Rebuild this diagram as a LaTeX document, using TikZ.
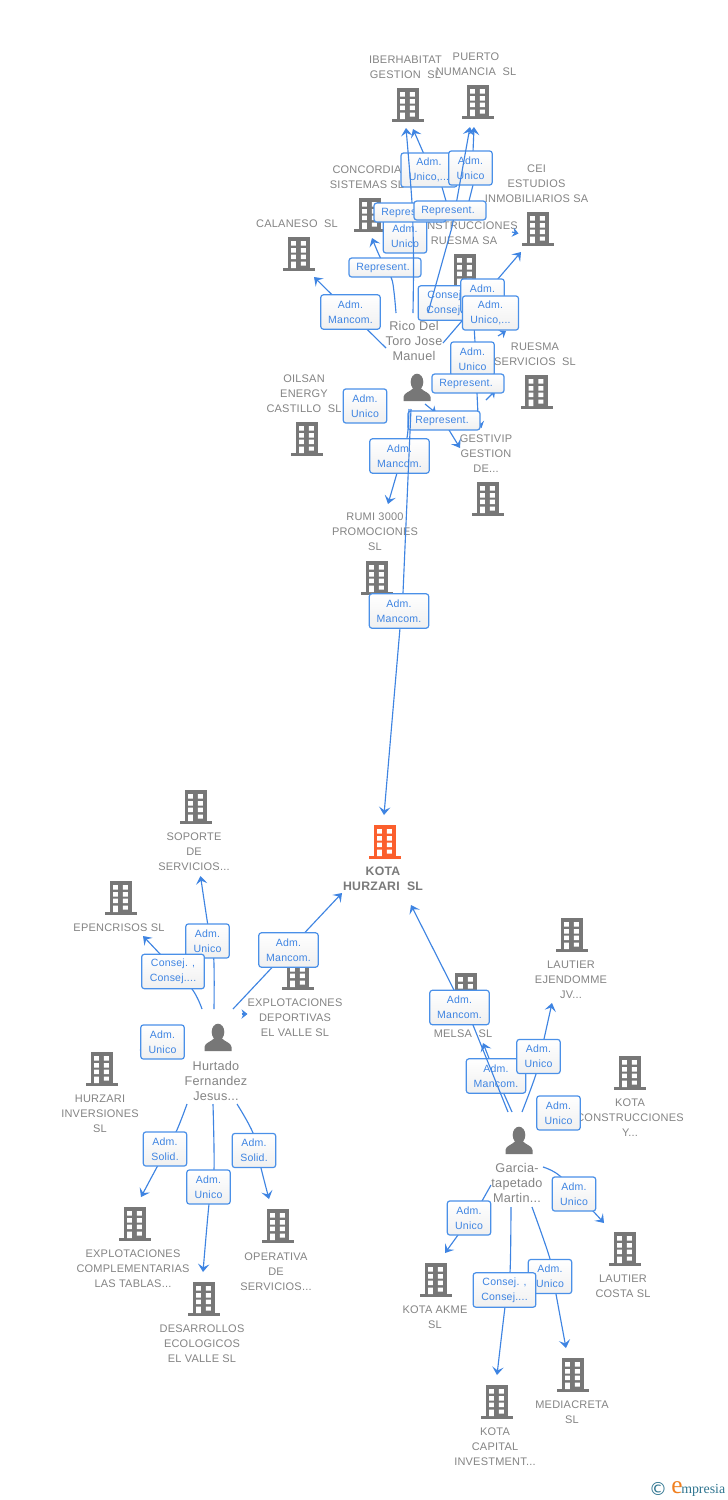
\documentclass[tikz,border=0pt]{standalone}
\usepackage{fontspec}
\setmainfont{Liberation Sans}[LetterSpace=2]
\newfontfamily\serifit{Liberation Serif}[Style=Italic]
\newfontfamily\symb{DejaVu Sans}
\usetikzlibrary{arrows.meta}
\definecolor{txtgray}{HTML}{848484}
\definecolor{icongray}{HTML}{777777}
\definecolor{linkblue}{HTML}{3E84E2}
\definecolor{boxblue}{HTML}{4A90E8}
\definecolor{hotorange}{HTML}{FB5F2D}
\definecolor{logoteal}{HTML}{2F7590}
\definecolor{logoorange}{HTML}{F08020}
\newcommand{\rp}{\raisebox{-0.75pt}{Represent.}\kern3pt}
\tikzset{
  x=0.75pt,y=-0.75pt,
  conn/.style={draw=linkblue,line width=0.85pt,-{Stealth[length=6pt,width=8.5pt,inset=2.5pt]}},
  plainline/.style={draw=linkblue,line width=0.85pt},
  chev/.style={draw=linkblue,line width=0.85pt,-{Stealth[length=4.5pt,width=7pt,inset=1.5pt]}},
  lbl/.style={draw=boxblue,line width=0.9pt,rounded corners=2pt,top color=white,bottom color=black!6,
    text=linkblue,align=center,inner sep=0pt,font=\fontsize{7.9}{11.25}\selectfont},
  lblU/.style={lbl,minimum width=32.6pt,minimum height=25.6pt},
  lblM/.style={lbl,minimum width=44.6pt,minimum height=25.8pt},
  lblC/.style={lbl,minimum width=47pt,minimum height=25.8pt},
  lblD/.style={lbl,minimum width=42pt,minimum height=25.6pt},
  lblR/.style={lbl,minimum width=54pt,minimum height=14.2pt},
  nm/.style={text=txtgray,align=center,anchor=north,inner sep=0pt,yshift=-0.75pt,font=\fontsize{8.25}{11.25}\selectfont},
  personnm/.style={nm,yshift=-0.2pt,font=\fontsize{9.5}{11.25}\selectfont},
  mainnm/.style={nm,text=black!52,font=\fontsize{9.2}{11.25}\selectfont\bfseries},
}
\newcommand{\bldg}[4]{%
  \begin{scope}[shift={(#2,#3)}]
    \coordinate (#1) at (0,17);
    \fill[#4] (-11.5,0) rectangle (11,31);
    \fill[#4] (-16,31) rectangle (16,34);
    \fill[white] (-8,4) rectangle (-3.2,8.5) (1.8,4) rectangle (6.8,8.5)
      (-8,11) rectangle (-3.2,15.5) (1.8,11) rectangle (6.8,15.5)
      (-8,17.7) rectangle (-3.2,22) (1.8,17.7) rectangle (6.8,22)
      (-8,24.5) rectangle (-3.2,31) (1.8,24.5) rectangle (6.8,28.5);
  \end{scope}}
\newcommand{\person}[3]{%
  \begin{scope}[shift={(#2,#3)}]
    \coordinate (#1) at (0,14);
    \fill[icongray] (0,8) ellipse (6.3 and 8.3);
    \fill[icongray] (-13.5,27) -- (-13.5,23) .. controls (-13,18.5) and (-7,18) .. (-3.5,14)
      -- (3.5,14) .. controls (7,18) and (13,18.5) .. (13.5,23) -- (13.5,27) -- cycle;
  \end{scope}}
\newcommand{\chevron}[3]{%
  \coordinate (#1a) at (#2); \coordinate (#1b) at (#3);
  \draw[chev] (#1a) -- (#1b);}
\begin{document}
\begin{tikzpicture}
\useasboundingbox (0,0) rectangle (728,1500);
\fill[white] (0,0) rectangle (728,1500);

% buildings
\bldg{bIber}{408}{88}{icongray}
\bldg{bPuerto}{478}{85}{icongray}
\bldg{bConc}{370}{198}{icongray}
\bldg{bCala}{299}{237}{icongray}
\bldg{bCei}{538}{212}{icongray}
\bldg{bCons}{465}{254}{icongray}
\bldg{bRues}{536.5}{375}{icongray}
\bldg{bOil}{307}{422}{icongray}
\bldg{bGest}{488}{482}{icongray}
\bldg{bRumi}{377}{561}{icongray}
\bldg{bKota}{385}{825}{hotorange}
\bldg{bSop}{196}{790}{icongray}
\bldg{bEpen}{121}{881}{icongray}
\bldg{bExpD}{298}{956}{icongray}
\bldg{bHurz}{102}{1052}{icongray}
\bldg{bExpC}{135}{1207}{icongray}
\bldg{bDes}{204}{1282}{icongray}
\bldg{bOper}{278}{1209}{icongray}
\bldg{bMel}{466}{973}{icongray}
\bldg{bLauE}{572}{918}{icongray}
\bldg{bKotC}{630}{1056}{icongray}
\bldg{bLauC}{625}{1232}{icongray}
\bldg{bAkme}{436}{1263}{icongray}
\bldg{bCap}{497}{1385}{icongray}
\bldg{bMedia}{573}{1358}{icongray}
\person{pRico}{417}{374}
\person{pHurt}{218}{1024}
\person{pGarc}{519}{1127}

% names
\node[nm] (tIber) at (405.5,55) {IBERHABITAT\\GESTION\ \ SL};
\node[nm] (tPuerto) at (476,52) {PUERTO\\NUMANCIA\ \ SL};
\node[nm] (tConc) at (367,165) {CONCORDIA\\SISTEMAS SL};
\node[nm] (tCala) at (297,219) {CALANESO\ \ SL};
\node[nm] (tCei) at (536.5,164) {CEI\\ESTUDIOS\\INMOBILIARIOS SA};
\node[nm] (tCons) at (464,221) {CONSTRUCCIONES\\RUESMA SA};
\node[nm] (tRues) at (535,342) {RUESMA\\SERVICIOS\ \ SL};
\node[nm] (tOil) at (304,374) {OILSAN\\ENERGY\\CASTILLO\ \ SL};
\node[nm] (tGest) at (486,434) {GESTIVIP\\GESTION\\DE...};
\node[nm] (tRumi) at (375,512) {RUMI 3000\\PROMOCIONES\\SL};
\node[mainnm] (tKota) at (383,865.5) {KOTA\\HURZARI\ \ SL};
\node[nm] (tSop) at (194,832) {SOPORTE\\DE\\SERVICIOS...};
\node[nm] (tEpen) at (119,923) {EPENCRISOS SL};
\node[nm] (tExpD) at (295,998) {EXPLOTACIONES\\DEPORTIVAS\\EL VALLE SL};
\node[nm] (tHurz) at (100,1094) {HURZARI\\INVERSIONES\\SL};
\node[personnm] (tHurt) at (216,1060) {Hurtado\\Fernandez\\Jesus...};
\node[nm] (tExpC) at (133,1249) {EXPLOTACIONES\\COMPLEMENTARIAS\\LAS TABLAS...};
\node[nm] (tDes) at (202,1324) {DESARROLLOS\\ECOLOGICOS\\EL VALLE SL};
\node[nm] (tOper) at (276,1252) {OPERATIVA\\DE\\SERVICIOS...};
\node[nm] (tMel) at (463,1029) {MELSA\ \ SL};
\node[nm] (tLauE) at (571,960) {LAUTIER\\EJENDOMME\\JV...};
\node[nm] (tKotC) at (630,1098) {KOTA\\CONSTRUCCIONES\\Y...};
\node[personnm] (tGarc) at (517,1162) {Garcia-\\tapetado\\Martin...};
\node[nm] (tLauC) at (623,1274) {LAUTIER\\COSTA SL};
\node[nm] (tAkme) at (435,1305) {KOTA AKME\\SL};
\node[nm] (tCap) at (495,1427) {KOTA\\CAPITAL\\INVESTMENT...};
\node[nm] (tMedia) at (572,1400) {MEDIACRETA\\SL};
\node[personnm] (tRico) at (414,320) {Rico Del\\Toro Jose\\Manuel};

% ---- top cluster
\coordinate (sCala) at (386,348); \coordinate (eCala) at (314,277);
\draw[conn] (sCala) -- (eCala);
\node[lblM] (lCala) at (350.5,312) {Adm.\\Mancom.};

\coordinate (sConc) at (396,313); \coordinate (eConc) at (372,238);
\draw[conn] plot[smooth,tension=.6] coordinates {(sConc) (394,292) (391,277) (380,257) (eConc)};
\node[lblR] (lConc) at (385,267.5) {\rp};

\coordinate (sIbB) at (448,208); \coordinate (eIbB) at (413,129);
\draw[conn] (sIbB) -- (442,187) -- (423,152) -- (eIbB);
\node[lblD] (lIbB) at (429,170) {Adm.\\Unico,...};

\node[lblU] (lUnA) at (405,236) {Adm.\\Unico};

\coordinate (sIbA) at (413,313); \coordinate (eIbA) at (406,128);
\draw[conn] plot[smooth,tension=.5] coordinates {(sIbA) (413.5,260) (412,203) (eIbA)};
\node[lblR] (lRepA) at (410,212.5) {\rp};

\node[lblC] (lCons) at (449.5,303) {Consej. ,\\Consej....};

\coordinate (sCei) at (443,343); \coordinate (eCei) at (521,252);
\draw[conn] (sCei) -- (eCei);
\node[lblU] (lUnB) at (482.5,296) {Adm.\\Unico};
\chevron{chA}{498,336}{506,331}
\coordinate (sDown) at (474,325); \coordinate (eDown) at (478,415);
\draw[plainline] (sDown) -- (475,342) -- (477,393) -- (eDown);
\node[lblD] (lDotsB) at (490.5,313) {Adm.\\Unico,...};

\coordinate (sPuB) at (467,212); \coordinate (ePuB) at (474,127);
\draw[conn] (sPuB) -- (469,201) -- (473,185) -- (473,152) -- (ePuB);
\node[lblU] (lPu) at (470.5,168) {Adm.\\Unico};

\coordinate (sPuA) at (428,313); \coordinate (ePuA) at (470,127);
\draw[conn] (sPuA) -- (452,227) -- (ePuA);
\node[lblR] (lRepB) at (450,210.5) {\rp};

\chevron{chCei}{512,232}{518.5,233.5}

% ---- lower part of the top cluster
\node[lblU] (lUnC) at (472.5,359) {Adm.\\Unico};
\chevron{chB}{486,400}{495,391}
\node[lblR] (lRepC) at (468,383.5) {\rp};
\node[lblU] (lUnD) at (365,406) {Adm.\\Unico};

\chevron{chC}{425,404}{436,413}
\chevron{chD}{476,412}{481.5,428}
\coordinate (sGest) at (441,420); \coordinate (eGest) at (460,448);
\draw[conn] (sGest) -- (449,430) -- (eGest);
\node[lblR] (lRepD) at (444,420.5) {\rp};

\coordinate (sRumi) at (409,409); \coordinate (eRumi) at (388,504);
\draw[conn] plot[smooth,tension=.5] coordinates {(sRumi) (407,438) (397,473) (eRumi)};
\node[lblM] (lRumi) at (399.5,456) {Adm.\\Mancom.};

\coordinate (sMain) at (411,409); \coordinate (eMain) at (384,815);
\draw[conn] (sMain) -- (403,593) -- (400,628) -- (eMain);
\node[lblM] (lMain) at (399,611) {Adm.\\Mancom.};

% ---- Hurtado
\coordinate (sSop) at (214,1009); \coordinate (eSop) at (200.5,876);
\draw[conn] plot[smooth,tension=.5] coordinates {(sSop) (213.7,958) (207.7,924) (eSop)};
\node[lblU] (lSop) at (207.5,941) {Adm.\\Unico};

\coordinate (sEpen) at (202,1009); \coordinate (eEpen) at (143,936);
\draw[conn] plot[smooth,tension=.5] coordinates {(sEpen) (192,989) (160,954) (eEpen)};
\node[lblC] (lEpen) at (173,971.5) {Consej. ,\\Consej....};

\coordinate (sMk) at (233,1009); \coordinate (eMk) at (342,893);
\draw[conn] (sMk) -- (eMk);
\node[lblM] (lMk) at (288.5,950) {Adm.\\Mancom.};

\chevron{chExp}{241.5,1014}{247.5,1014}
\chevron{chHur}{148,1049}{139.5,1050}
\node[lblU] (lHur) at (162.5,1042) {Adm.\\Unico};

\coordinate (sExC) at (187,1104); \coordinate (eExC) at (141,1197);
\draw[conn] plot[smooth,tension=.5] coordinates {(sExC) (176,1132) (157,1167) (eExC)};
\node[lblU] (lExC) at (165,1149) {Adm.\\Solid.};

\coordinate (sDes) at (213,1104); \coordinate (eDes) at (203,1272);
\draw[conn] plot[smooth,tension=.5] coordinates {(sDes) (214,1170) (209,1204) (eDes)};
\node[lblU] (lDes) at (208.5,1187) {Adm.\\Unico};

\coordinate (sOp) at (237,1104); \coordinate (eOp) at (269,1199);
\draw[conn] plot[smooth,tension=.5] coordinates {(sOp) (253,1133) (261,1168) (eOp)};
\node[lblU] (lOp) at (254,1150.5) {Adm.\\Solid.};

% ---- Garcia
\coordinate (sMel) at (512,1112); \coordinate (eMel) at (483,1043);
\draw[conn] (sMel) -- (496,1076) -- (eMel);
\node[lblM] (lMel) at (496,1076) {Adm.\\Mancom.};

\coordinate (sKh) at (508,1112); \coordinate (eKh) at (411,905);
\draw[conn] (sKh) -- (473,1025) -- (454,990) -- (eKh);
\node[lblM] (lKh) at (459.5,1007.5) {Adm.\\Mancom.};

\coordinate (sLe) at (522,1112); \coordinate (eLe) at (552,1003);
\draw[conn] plot[smooth,tension=.5] coordinates {(sLe) (536,1074) (544,1039) (eLe)};
\node[lblU] (lLe) at (538.5,1056.5) {Adm.\\Unico};

\node[lblU] (lKc) at (558.5,1113) {Adm.\\Unico};

\coordinate (sLc) at (543,1167); \coordinate (eLc) at (604,1223);
\draw[conn] plot[smooth,tension=.5] coordinates {(sLc) (560,1176) (593,1211) (eLc)};
\node[lblU] (lLc) at (574,1194) {Adm.\\Unico};

\coordinate (sAk) at (491,1185); \coordinate (eAk) at (445,1253);
\draw[conn] (sAk) -- (482,1201) -- (458,1235) -- (eAk);
\node[lblU] (lAk) at (469,1218) {Adm.\\Unico};

\coordinate (sMed) at (532,1207); \coordinate (eMed) at (566,1348);
\draw[conn] plot[smooth,tension=.5] coordinates {(sMed) (550,1259) (556,1294) (eMed)};
\node[lblU] (lMed) at (550,1276.5) {Adm.\\Unico};

\coordinate (sCap) at (511,1207); \coordinate (eCap) at (497,1375);
\draw[conn] plot[smooth,tension=.5] coordinates {(sCap) (510,1273) (505,1307) (eCap)};
\node[lblC] (lCap) at (504.5,1290) {Consej. ,\\Consej....};

% logo
\node[text=logoteal,inner sep=0pt,font=\symb\fontsize{13.5}{14}\selectfont] (logoC) at (658,1488.5) {©};
\node[text=logoorange,inner sep=0pt,anchor=base west,font=\serifit\fontsize{19}{20}\selectfont] (logoE) at (671,1493) {e};
\node[text=logoteal,inner sep=0pt,anchor=base west,font=\serifit\fontsize{10.4}{12}\selectfont] (logoM) at (681,1493) {mpresia};
\end{tikzpicture}
\end{document}
